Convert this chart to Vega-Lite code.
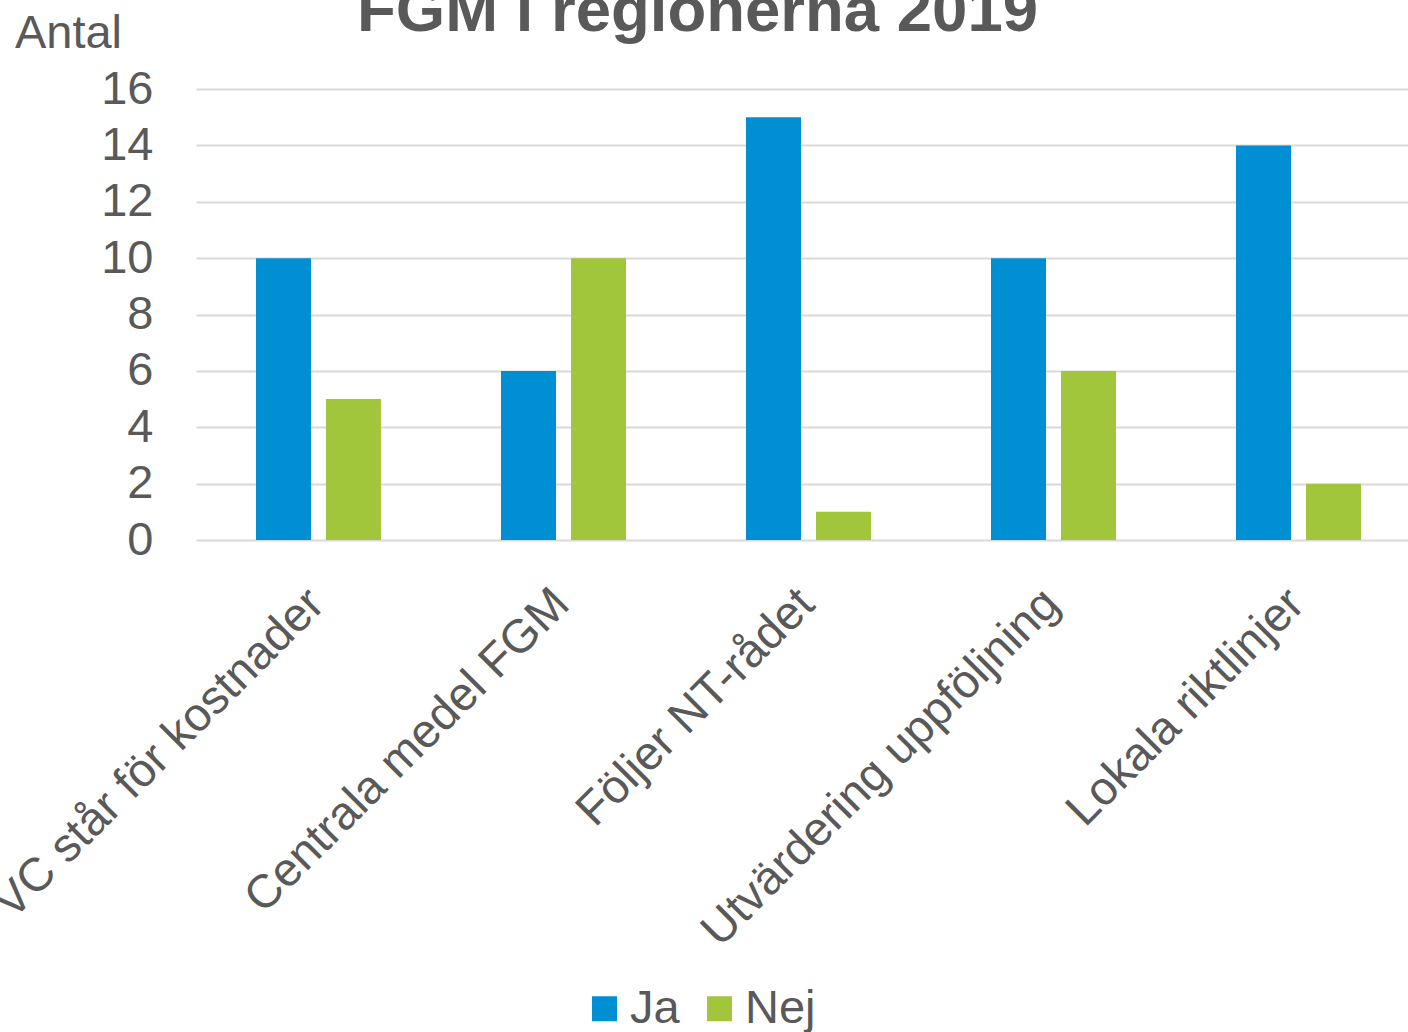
{
  "$schema": "https://vega.github.io/schema/vega-lite/v6.json",
  "autosize": {"type": "none"},
  "padding": {"left": 196, "top": 89, "right": 0, "bottom": 492},
  "width": 1225,
  "height": 451,
  "background": "white",
  "title": {
    "text": "FGM i regionerna 2019",
    "font": "Liberation Sans",
    "fontSize": 63.5,
    "fontWeight": "bold",
    "color": "#595959",
    "anchor": "middle",
    "frame": "group",
    "dx": -111,
    "dy": 39
  },
  "data": {
    "values": [
      {"kategori": "VC står för kostnader", "svar": "Ja", "antal": 10},
      {"kategori": "VC står för kostnader", "svar": "Nej", "antal": 5},
      {"kategori": "Centrala medel FGM", "svar": "Ja", "antal": 6},
      {"kategori": "Centrala medel FGM", "svar": "Nej", "antal": 10},
      {"kategori": "Följer NT-rådet", "svar": "Ja", "antal": 15},
      {"kategori": "Följer NT-rådet", "svar": "Nej", "antal": 1},
      {"kategori": "Utvärdering uppföljning", "svar": "Ja", "antal": 10},
      {"kategori": "Utvärdering uppföljning", "svar": "Nej", "antal": 6},
      {"kategori": "Lokala riktlinjer", "svar": "Ja", "antal": 14},
      {"kategori": "Lokala riktlinjer", "svar": "Nej", "antal": 2}
    ]
  },
  "mark": {"type": "bar"},
  "encoding": {
    "x": {
      "field": "kategori",
      "type": "nominal",
      "sort": null,
      "scale": {"paddingInner": 0, "paddingOuter": 0},
      "axis": {
        "title": null,
        "labelAngle": -45,
        "labelFont": "Liberation Sans",
        "labelFontSize": 47,
        "labelColor": "#595959",
        "labelPadding": 40,
        "labelOffset": -18,
        "labelLimit": 1000,
        "ticks": false,
        "domain": false,
        "grid": false
      }
    },
    "xOffset": {
      "field": "svar",
      "type": "nominal",
      "scale": {"paddingInner": 0.2143, "paddingOuter": 0.857}
    },
    "y": {
      "field": "antal",
      "type": "quantitative",
      "scale": {"domain": [0, 16], "nice": false},
      "axis": {
        "values": [0, 2, 4, 6, 8, 10, 12, 14, 16],
        "title": "Antal",
        "titleFont": "Liberation Sans",
        "titleFontSize": 47,
        "titleFontWeight": "normal",
        "titleColor": "#595959",
        "titleAngle": 0,
        "titleAlign": "center",
        "titleBaseline": "alphabetic",
        "titleX": -128,
        "titleY": -42,
        "labelFont": "Liberation Sans",
        "labelFontSize": 47,
        "labelColor": "#595959",
        "labelPadding": 43,
        "ticks": false,
        "domain": false,
        "grid": true,
        "gridColor": "#d9d9d9",
        "gridWidth": 2
      }
    },
    "color": {
      "field": "svar",
      "type": "nominal",
      "scale": {"domain": ["Ja", "Nej"], "range": ["#008fd3", "#a1c53b"]},
      "legend": {
        "title": null,
        "orient": "none",
        "direction": "horizontal",
        "legendX": 385,
        "legendY": 896,
        "symbolType": "square",
        "symbolSize": 625,
        "symbolStrokeWidth": 0,
        "labelFont": "Liberation Sans",
        "labelFontSize": 47,
        "labelColor": "#595959",
        "labelOffset": 2,
        "columnPadding": 16,
        "padding": 0
      }
    }
  },
  "config": {"view": {"stroke": null}}
}
